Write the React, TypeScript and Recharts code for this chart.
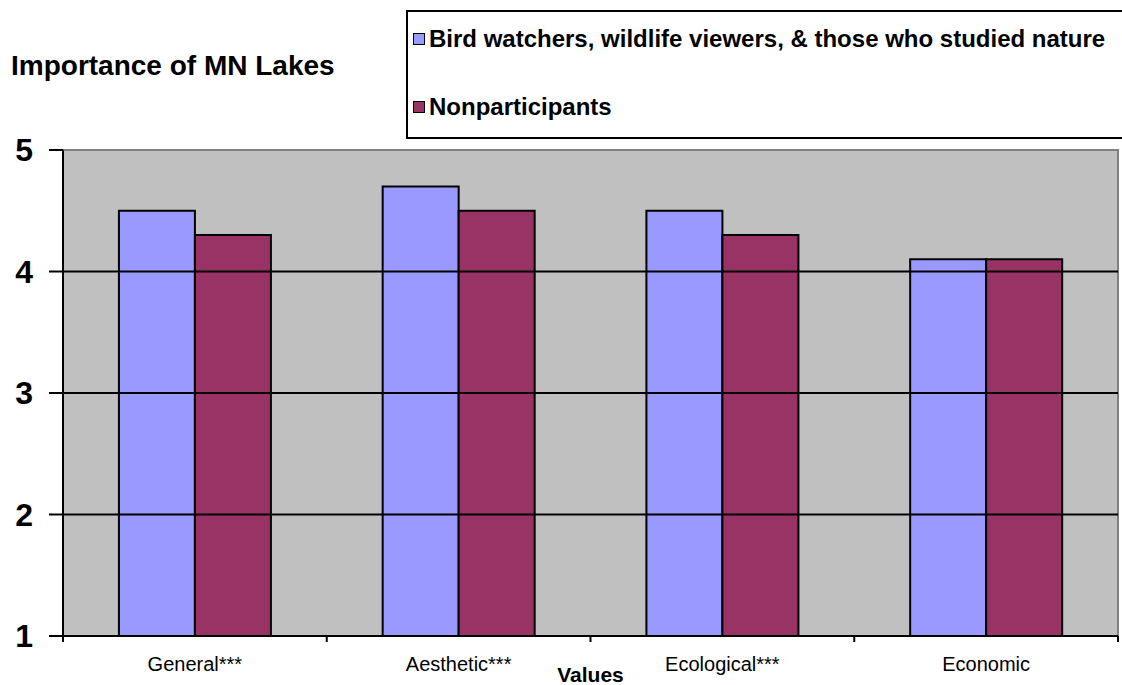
import { BarChart, Bar, XAxis, YAxis, CartesianGrid, ReferenceLine, ReferenceArea } from "recharts";

const categories = ["General***", "Aesthetic***", "Ecological***", "Economic"];
const birdWatchers = [4.5, 4.7, 4.5, 4.1];
const nonparticipants = [4.3, 4.5, 4.3, 4.1];
const yTicks = [1, 2, 3, 4, 5];
const gridValues = [2, 3, 4];
const seriesNames = ["Bird watchers, wildlife viewers, & those who studied nature", "Nonparticipants"];

const data = categories.map((name, i) => ({
  name,
  bird: birdWatchers[i],
  non: nonparticipants[i],
}));

const FONT = "'Liberation Sans', Arial, sans-serif";
const BLUE = "#9999FF";
const MAROON = "#993366";

function CategoryTick(props: any) {
  const { x, y, payload, index } = props;
  const half = payload?.offset ?? 131.9;
  return (
    <g>
      <line x1={x - half} x2={x - half} y1={y - 8} y2={y - 2} stroke="#000" strokeWidth={2} />
      {index === categories.length - 1 && (
        <line x1={x + half} x2={x + half} y1={y - 8} y2={y - 2} stroke="#000" strokeWidth={2} />
      )}
      <text x={x} y={y + 27} textAnchor="middle" fontSize={20} fontFamily={FONT} fill="#000">
        {payload.value}
      </text>
    </g>
  );
}

function ValuesLabel(props: any) {
  const { viewBox } = props;
  const cx = viewBox.x + viewBox.width / 2;
  return (
    <text x={cx} y={viewBox.y + 46} textAnchor="middle" fontSize={21} fontWeight="bold" fontFamily={FONT} fill="#000">
      Values
    </text>
  );
}

function LegendBox() {
  const colors = [BLUE, MAROON];
  return (
    <div
      style={{
        position: "absolute",
        left: 406,
        top: 10,
        width: 760,
        height: 129,
        border: "2px solid #000",
        boxSizing: "border-box",
        background: "#fff",
        fontFamily: FONT,
      }}
    >
      {seriesNames.map((label, i) => (
        <div
          key={label}
          style={{
            position: "absolute",
            left: 5,
            top: 13 + i * 68,
            display: "flex",
            alignItems: "center",
            fontWeight: "bold",
            fontSize: 24,
            whiteSpace: "nowrap",
          }}
        >
          <span
            style={{
              width: 10,
              height: 10,
              border: "1.5px solid #000",
              background: colors[i],
              display: "inline-block",
              marginRight: 4,
            }}
          />
          {label}
        </div>
      ))}
    </div>
  );
}

export default function App() {
  return (
    <div
      style={{
        position: "absolute",
        left: 0,
        top: 0,
        width: 1122,
        height: 685,
        overflow: "hidden",
        background: "#fff",
        fontFamily: FONT,
      }}
    >
      <div
        style={{
          position: "absolute",
          left: 11,
          top: 50,
          fontSize: 28,
          fontWeight: "bold",
          color: "#000",
        }}
      >
        Importance of MN Lakes
      </div>
      <LegendBox />
      <BarChart
        width={1122}
        height={685}
        data={data}
        margin={{ top: 150, right: 4, bottom: 0, left: 0 }}
        barGap={0}
        barCategoryGap="21.2%"
      >
        <CartesianGrid horizontal={false} vertical={false} fill="#C0C0C0" />
        {gridValues.map((v) => (
          <ReferenceLine key={v} y={v} stroke="#000" strokeWidth={2} />
        ))}
        <ReferenceArea y1={1} y2={5} fill="none" stroke="#808080" strokeWidth={2} />
        <XAxis
          dataKey="name"
          height={49}
          axisLine={{ stroke: "#000", strokeWidth: 2 }}
          tickLine={false}
          tick={<CategoryTick />}
          interval={0}
          label={<ValuesLabel />}
        />
        <YAxis
          width={63}
          domain={[1, 5]}
          ticks={yTicks}
          interval={0}
          axisLine={{ stroke: "#000", strokeWidth: 2 }}
          tickLine={{ stroke: "#000", strokeWidth: 2 }}
          tickSize={14}
          tickMargin={16}
          tick={{ fontSize: 32, fontWeight: "bold", fill: "#000", fontFamily: FONT }}
        />
        <Bar dataKey="bird" fill={BLUE} stroke="#000" strokeWidth={2} isAnimationActive={false} />
        <Bar dataKey="non" fill={MAROON} stroke="#000" strokeWidth={2} isAnimationActive={false} />
      </BarChart>
    </div>
  );
}
